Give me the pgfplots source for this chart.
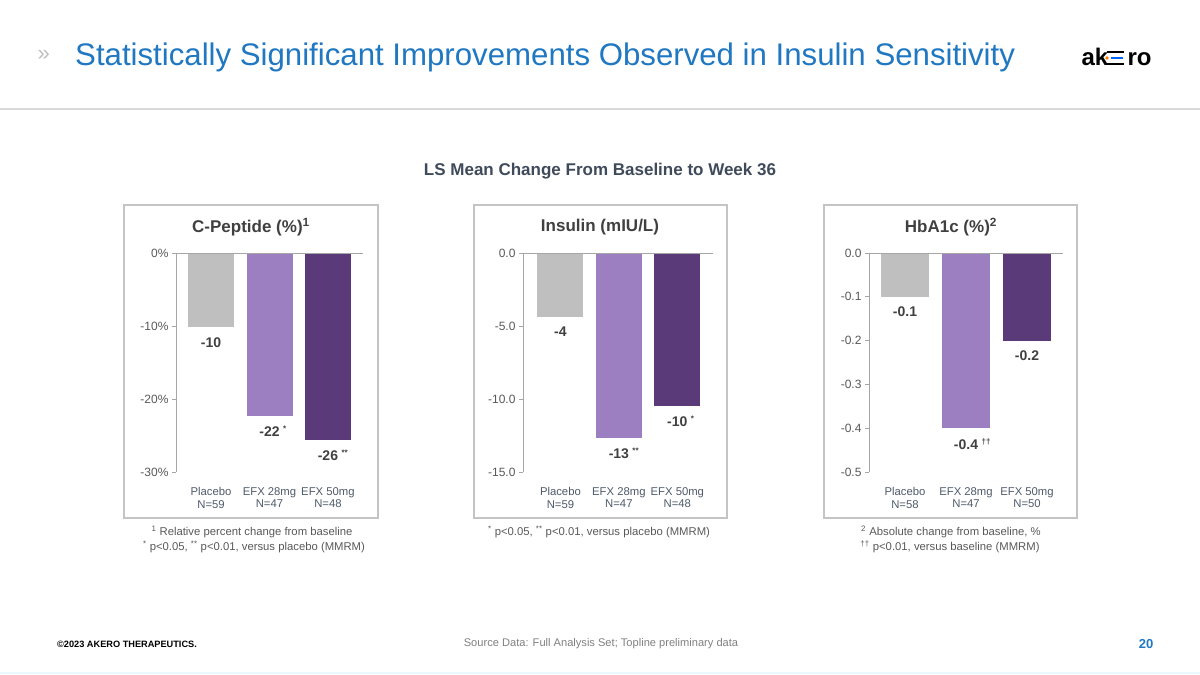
\documentclass[border=0pt]{standalone}
\usepackage{fontspec}
\setmainfont{Liberation Sans}
\usepackage{pgfplots}
\pgfplotsset{compat=1.18}
\definecolor{titleblue}{HTML}{1F78C1}
\definecolor{cplac}{HTML}{BFBFBF}
\definecolor{cmid}{HTML}{9B7FC0}
\definecolor{cdark}{HTML}{5A3A78}
\definecolor{axgray}{HTML}{A6A6A6}
\definecolor{txtgray}{HTML}{595959}
\definecolor{lblgray}{HTML}{4F5A6A}
\definecolor{boxgray}{HTML}{C4C4C4}
\definecolor{darktxt}{HTML}{404040}
\definecolor{subt}{HTML}{3F4A5A}
\newcommand{\fs}[2]{\fontsize{#1}{#2}\selectfont}
\pgfplotsset{panel/.style={
  scale only axis, height=219pt, ymax=0,
  ybar,
  axis line style={draw=none},
  xtick={0,1,2}, xtick style={draw=none}, xtick pos=bottom, ytick pos=left,
  tick align=outside, major tick length=4pt,
  ytick style={axgray, line width=0.8pt},
  xticklabel style={font=\fs{11.3}{12.5}, text=lblgray, align=center, yshift=-8pt},
  yticklabel style={font=\fs{12}{13}, text=txtgray},
  point meta=explicit symbolic, nodes near coords, nodes near coords align={below},
  every node near coord/.append style={font=\bfseries\fs{14}{16}, text=darktxt, yshift=-6.5pt},
  clip=false, enlargelimits=false,
}}
\newcommand{\sups}[1]{\rlap{\hspace{3.5pt}\raisebox{5pt}{\fs{8}{8}#1}}}
\begin{document}
\begin{tikzpicture}[x=1pt,y=1pt]
\useasboundingbox (0,0) rectangle (1200,675);
\fill[white] (0,0) rectangle (1200,675);
% header
\node[anchor=base west, text=cplac, font=\fs{22}{24}] at (34,614) {»};
\node[anchor=base west, text=titleblue, font=\fs{31.2}{36}, inner sep=0pt] at (75,609) {Statistically Significant Improvements Observed in Insulin Sensitivity};
\node[anchor=base west, font=\bfseries\fs{24}{26}] at (1078,609) {ak};
\draw[line width=2.4pt] (1107,623) -- (1124,623);
\draw[line width=2.4pt] (1107,611) -- (1124,611);
\draw[line width=2.4pt, blue!60!cyan] (1111,617) -- (1123,617);
\fill[orange] (1107,617) circle (1.8);
\node[anchor=base west, font=\bfseries\fs{24}{26}] at (1124,609) {ro};
\draw[line width=1.2pt, black!15] (0,566) -- (1200,566);
\node[text=subt, font=\bfseries\fs{17}{19}] at (600,504) {LS Mean Change From Baseline to Week 36};
% boxes
\draw[boxgray, line width=1.5pt] (124,157) rectangle (378,470);
\draw[boxgray, line width=1.5pt] (474,157) rectangle (727,470);
\draw[boxgray, line width=1.5pt] (824,157) rectangle (1077,470);
% panel titles
\node[text=darktxt, font=\bfseries\fs{17}{19}] at (251,448) {C-Peptide (\%)\textsuperscript{1}};
\node[text=darktxt, font=\bfseries\fs{17}{19}] at (600,448) {Insulin (mIU/L)};
\node[text=darktxt, font=\bfseries\fs{17}{19}] at (951,448) {HbA1c (\%)\textsuperscript{2}};
% panel 1
\begin{axis}[panel, at={(176pt,203pt)}, anchor=south west, width=187pt,
  xmin=-0.6, xmax=2.6, ymin=-30,
  ytick={-30,-20,-10,0}, yticklabels={-30\%,-20\%,-10\%,0\%},
  xticklabels={{Placebo\\N=59},{EFX 28mg\\N=47},{EFX 50mg\\N=48}}]
\addplot[fill=cplac, draw=none, bar width=46pt, bar shift=0pt] coordinates {(0,-10.2) [-10]};
\addplot[fill=cmid, draw=none, bar width=46pt, bar shift=0pt] coordinates {(1,-22.3) [-22\sups{*}]};
\addplot[fill=cdark, draw=none, bar width=46pt, bar shift=0pt] coordinates {(2,-25.6) [-26\sups{**}]};
\draw[axgray, line width=0.8pt] (rel axis cs:0,1) -- (rel axis cs:1,1);
\draw[axgray, line width=0.8pt] (rel axis cs:0,0) -- (rel axis cs:0,1);
\end{axis}
% panel 2
\begin{axis}[panel, at={(523pt,203pt)}, anchor=south west, width=190pt,
  xmin=-0.64, xmax=2.61, ymin=-15,
  ytick={-15,-10,-5,0}, yticklabels={-15.0,-10.0,-5.0,0.0},
  xticklabels={{Placebo\\N=59},{EFX 28mg\\N=47},{EFX 50mg\\N=48}}]
\addplot[fill=cplac, draw=none, bar width=46pt, bar shift=0pt] coordinates {(0,-4.4) [-4]};
\addplot[fill=cmid, draw=none, bar width=46pt, bar shift=0pt] coordinates {(1,-12.7) [-13\sups{**}]};
\addplot[fill=cdark, draw=none, bar width=46pt, bar shift=0pt] coordinates {(2,-10.5) [-10\sups{*}]};
\draw[axgray, line width=0.8pt] (rel axis cs:0,1) -- (rel axis cs:1,1);
\draw[axgray, line width=0.8pt] (rel axis cs:0,0) -- (rel axis cs:0,1);
\end{axis}
% panel 3
\begin{axis}[panel, at={(869pt,203pt)}, anchor=south west, width=194pt,
  xmin=-0.59, xmax=2.59, ymin=-0.5,
  ytick={-0.5,-0.4,-0.3,-0.2,-0.1,0}, yticklabels={-0.5,-0.4,-0.3,-0.2,-0.1,0.0},
  xticklabels={{Placebo\\N=58},{EFX 28mg\\N=47},{EFX 50mg\\N=50}}]
\addplot[fill=cplac, draw=none, bar width=48pt, bar shift=0pt] coordinates {(0,-0.1) [-0.1]};
\addplot[fill=cmid, draw=none, bar width=48pt, bar shift=0pt] coordinates {(1,-0.4) [-0.4\sups{††}]};
\addplot[fill=cdark, draw=none, bar width=48pt, bar shift=0pt] coordinates {(2,-0.2) [-0.2]};
\draw[axgray, line width=0.8pt] (rel axis cs:0,1) -- (rel axis cs:1,1);
\draw[axgray, line width=0.8pt] (rel axis cs:0,0) -- (rel axis cs:0,1);
\end{axis}
% footnotes
\node[text=txtgray, font=\fs{11.3}{13}] at (252,143) {\textsuperscript{1} Relative percent change from baseline};
\node[text=txtgray, font=\fs{11.3}{13}] at (254,128) {\textsuperscript{*} p<0.05, \textsuperscript{**} p<0.01, versus placebo (MMRM)};
\node[text=txtgray, font=\fs{11.3}{13}] at (599,143) {\textsuperscript{*} p<0.05, \textsuperscript{**} p<0.01, versus placebo (MMRM)};
\node[text=txtgray, font=\fs{11.3}{13}] at (951,143) {\textsuperscript{2} Absolute change from baseline, \%};
\node[text=txtgray, font=\fs{11.3}{13}] at (950,128) {\textsuperscript{††} p<0.01, versus baseline (MMRM)};
% footer
\node[anchor=west, font=\bfseries\fs{9.2}{10}, inner sep=0pt] at (57,31) {©2023 AKERO THERAPEUTICS.};
\node[text=black!50, font=\fs{11.1}{13}] at (601,31) {Source Data: Full Analysis Set; Topline preliminary data};
\node[text=titleblue, font=\bfseries\fs{13}{15}] at (1146,31) {20};
\draw[line width=1.5pt, cyan!8] (0,2) -- (1200,2);
\end{tikzpicture}
\end{document}
